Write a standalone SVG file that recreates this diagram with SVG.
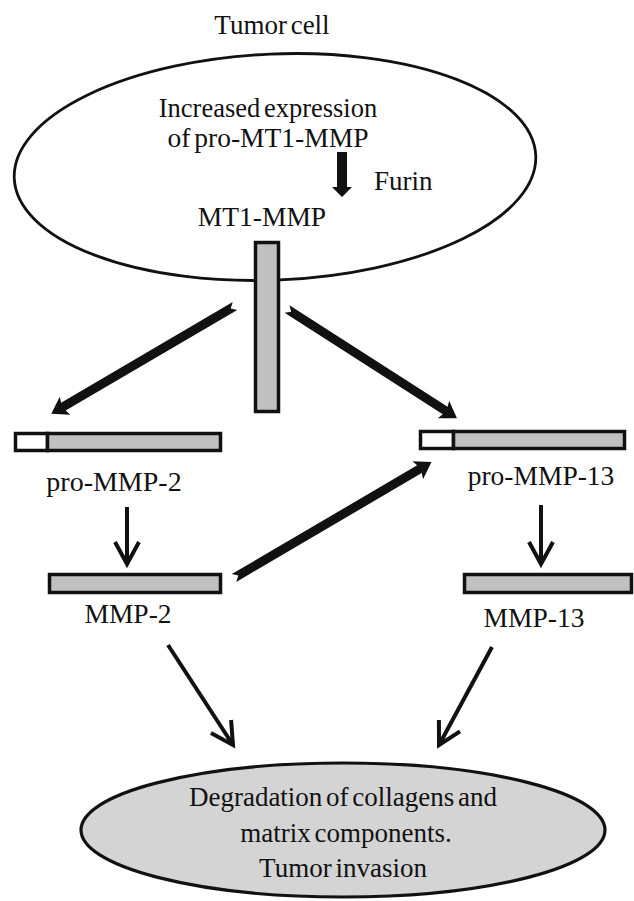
<svg xmlns="http://www.w3.org/2000/svg" width="634" height="901" viewBox="0 0 634 901">
<style>
text{font-family:"Liberation Serif","Times New Roman",serif;font-size:27px;fill:#111;word-spacing:-3px;}
.c{text-anchor:middle;}
.m{font-size:27.5px;}
.bar{fill:#c0c0c0;stroke:#111;stroke-width:3.5;}
.pro{fill:#fff;stroke:#111;stroke-width:3.5;}
.thick{fill:#111;}
.thin{stroke:#111;stroke-width:4;fill:none;marker-end:url(#v);}
</style>
<defs>
<marker id="v" viewBox="-30 -16 36 32" refX="0" refY="0" markerWidth="36" markerHeight="32" markerUnits="userSpaceOnUse" orient="auto" overflow="visible">
<path d="M-22,-12 L0,0 L-22,12" fill="none" stroke="#111" stroke-width="4"/>
</marker>
</defs>
<rect width="634" height="901" fill="#fff"/>

<g id="tumor-cell">
<ellipse cx="275" cy="167" rx="261" ry="113" fill="none" stroke="#111" stroke-width="2.8" transform="rotate(-2.5 275 167)"/>
<text class="c" x="272" y="34">Tumor cell</text>
<text class="c" x="268" y="117" style="font-size:26.5px">Increased expression</text>
<text class="c m" x="268" y="147">of pro-MT1-MMP</text>
<text x="374" y="190">Furin</text>
<text class="c m" x="262" y="226">MT1-MMP</text>
</g>

<g id="mt1-mmp-bar">
<rect class="bar" x="255.5" y="242.5" width="23" height="169"/>
</g>

<g id="pro-mmp-2">
<rect class="pro" x="15.5" y="433.5" width="32" height="17"/>
<rect class="bar" x="47.5" y="433.5" width="173" height="17"/>
<text class="c" x="114" y="491" style="font-size:28px">pro-MMP-2</text>
</g>

<g id="pro-mmp-13">
<rect class="pro" x="420.5" y="431.5" width="33" height="17"/>
<rect class="bar" x="453.5" y="431.5" width="171" height="17"/>
<text class="c m" x="541" y="485">pro-MMP-13</text>
</g>

<g id="mmp-2">
<rect class="bar" x="49.5" y="574.5" width="171" height="18"/>
<text class="c m" x="128" y="623">MMP-2</text>
</g>

<g id="mmp-13">
<rect class="bar" x="464.5" y="574.5" width="167" height="18"/>
<text class="c m" x="534" y="627">MMP-13</text>
</g>

<g id="outcome">
<ellipse cx="343" cy="830" rx="262" ry="67" fill="#d4d4d4" stroke="#111" stroke-width="3.2"/>
<text class="c" x="343" y="806">Degradation of collagens and</text>
<text class="c" x="346" y="842">matrix components.</text>
<text class="c" x="343" y="877">Tumor invasion</text>
</g>

<g id="connectors">
<polygon class="thick" points="337,152 347,152 347,187 352,187 342,197 332,187 337,187"/>
<polygon class="thick" transform="translate(235 306) rotate(149.6)" points="0,-4.5 199,-4.5 197,-10.5 213,0 197,10.5 199,4.5 0,4.5 5,0"/>
<polygon class="thick" transform="translate(287 309) rotate(32.7)" points="0,-4.5 188,-4.5 186,-10.5 202,0 186,10.5 188,4.5 0,4.5 5,0"/>
<polygon class="thick" transform="translate(234 578) rotate(-30.4)" points="0,-4.5 215,-4.5 213,-10.5 229,0 213,10.5 215,4.5 0,4.5 5,0"/>
<line class="thin" x1="127" y1="507" x2="127" y2="564"/>
<line class="thin" x1="541" y1="505" x2="541" y2="564"/>
<line class="thin" x1="168" y1="645" x2="233" y2="745"/>
<line class="thin" x1="492" y1="647" x2="439" y2="745"/>
</g>
</svg>
